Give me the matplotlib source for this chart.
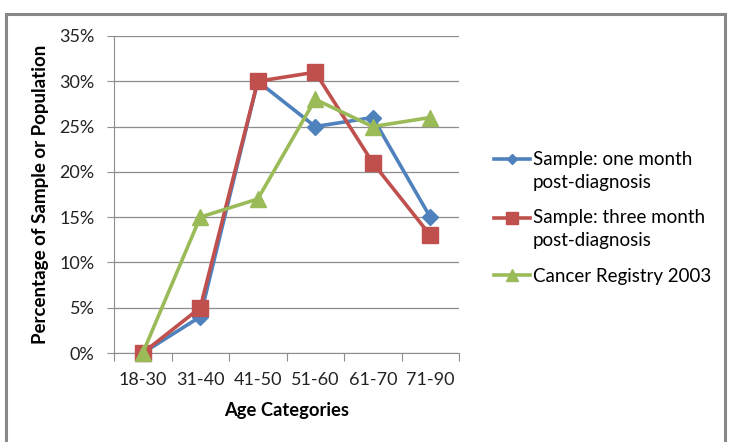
import matplotlib.pyplot as plt
from matplotlib.patches import Rectangle
from matplotlib.ticker import FuncFormatter, FixedLocator
from matplotlib.legend_handler import HandlerLine2D

plt.rcParams['font.family'] = ['Lato', 'DejaVu Sans']

categories = ["18-30", "31-40", "41-50", "51-60", "61-70", "71-90"]
one_month = [0, 4, 30, 25, 26, 15]
three_month = [0, 5, 30, 31, 21, 13]
registry = [0, 15, 17, 28, 25, 26]

W, H = 731, 442
fig = plt.figure(figsize=(W / 100, H / 100), dpi=100)

# outer chart border (bottom edge runs off the image)
fig.patches.append(Rectangle((6 / W, -0.05), (725 - 6) / W, 1.05 - 14 / H,
                             transform=fig.transFigure, fill=False,
                             edgecolor="#888888", linewidth=2.2))

ax = fig.add_axes([114 / W, 1 - 353 / H, (459 - 114) / W, (353 - 36) / H])

x = list(range(len(categories)))
l1, = ax.plot(x, one_month, color="#4F81BD", marker="D", markersize=8, linewidth=2.6,
              label="Sample: one month\npost-diagnosis", clip_on=False, zorder=3)
l2, = ax.plot(x, three_month, color="#C0504D", marker="s", markersize=12, linewidth=2.6,
              label="Sample: three month\npost-diagnosis", clip_on=False, zorder=3)
l3, = ax.plot(x, registry, color="#9BBB59", marker="^", markersize=12, linewidth=2.6,
              label="Cancer Registry 2003", clip_on=False, zorder=4)

ax.set_xlim(-0.5, len(categories) - 0.5)
ax.set_ylim(0, 35)
ax.set_yticks(range(0, 36, 5))
ax.yaxis.set_major_formatter(FuncFormatter(lambda v, p: f"{int(v)}%"))
ax.grid(axis="y", color="#8C8C8C", linewidth=0.9)
ax.set_axisbelow(True)

# category ticks between groups, labels centered
ax.xaxis.set_major_locator(FixedLocator([i - 0.5 for i in range(len(categories) + 1)]))
ax.xaxis.set_major_formatter(FuncFormatter(lambda v, p: ""))
ax.xaxis.set_minor_locator(FixedLocator(x))
ax.set_xticklabels(categories, minor=True)
ax.tick_params(axis="x", which="major", length=6, color="#8C8C8C")
ax.tick_params(axis="x", which="minor", length=0, pad=14, labelsize=13, labelcolor="#222222")
ax.tick_params(axis="y", length=5, color="#8C8C8C", labelsize=13, labelcolor="#222222", pad=9)

for s in ["top", "right"]:
    ax.spines[s].set_visible(False)
for s in ["left", "bottom"]:
    ax.spines[s].set_color("#8C8C8C")

ax.set_xlabel("Age Categories", fontsize=13.2, fontweight="bold", labelpad=10)
ax.set_ylabel("Percentage of Sample or Population", fontsize=13.5, fontweight="bold", labelpad=7)


class FirstLineHandler(HandlerLine2D):
    # put the legend key next to the first line of a two-line label
    def __init__(self, shift, **kw):
        super().__init__(**kw)
        self.shift = shift

    def create_artists(self, legend, orig_handle, xdescent, ydescent, width, height, fontsize, trans):
        return super().create_artists(legend, orig_handle, xdescent, ydescent - self.shift,
                                      width, height, fontsize, trans)


lfs = 13.5
leg = ax.legend(loc="center left", bbox_to_anchor=(485 / W, 1 - 218 / H), bbox_transform=fig.transFigure,
                frameon=False, fontsize=lfs, handlelength=1.9, handletextpad=0.15,
                labelspacing=1.0, markerscale=0.7, borderpad=0,
                handler_map={l1: FirstLineHandler(17.6), l2: FirstLineHandler(17.6)})
for t in leg.get_texts():
    t.set_linespacing(1.4)

fig.savefig("out.png", dpi=100)
